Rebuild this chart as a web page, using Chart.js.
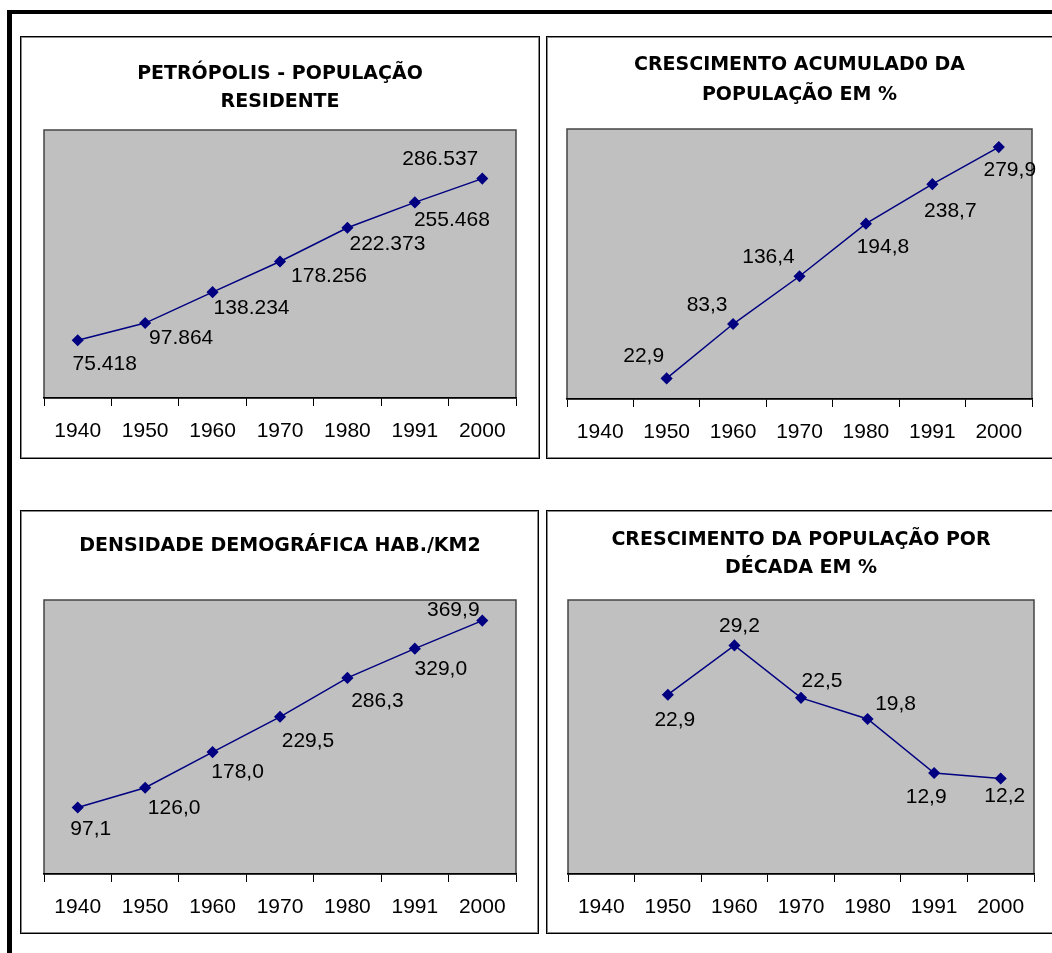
<!DOCTYPE html>
<html>
<head>
<meta charset="utf-8">
<script src="https://cdn.jsdelivr.net/npm/chart.js@4/dist/chart.umd.min.js"></script>
<style>
  html, body { margin: 0; padding: 0; background: #fff; }
  body { width: 1052px; height: 953px; position: relative; overflow: hidden; }
  .frame { position: absolute; left: 7px; top: 10px; right: -10px; bottom: -10px;
           border-left: 5px solid #000; border-top: 4px solid #000; }
  .panel { position: absolute; box-sizing: border-box; border: 1px solid #000;
           box-shadow: inset 1px 1px 0 #888, inset -1px -1px 0 #888; background: #fff; }
  .panel canvas { position: absolute; left: 0; top: 0; }
</style>
</head>
<body>
<div class="frame"></div>
<div class="panel" style="left:20px; top:36px; width:520px; height:423px;"><canvas id="c1" width="518" height="421"></canvas></div>
<div class="panel" style="left:546px; top:36px; width:511px; height:423px;"><canvas id="c2" width="509" height="421"></canvas></div>
<div class="panel" style="left:20px; top:510px; width:519px; height:424px;"><canvas id="c3" width="517" height="422"></canvas></div>
<div class="panel" style="left:546px; top:510px; width:511px; height:424px;"><canvas id="c4" width="509" height="422"></canvas></div>
<script>
  // dados
  const anos = ['1940', '1950', '1960', '1970', '1980', '1991', '2000'];
  const populacao = [75418, 97864, 138234, 178256, 222373, 255468, 286537];
  const crescAcumulado = [null, 22.9, 83.3, 136.4, 194.8, 238.7, 279.9];
  const densidade = [97.1, 126.0, 178.0, 229.5, 286.3, 329.0, 369.9];
  const crescDecada = [null, 22.9, 29.2, 22.5, 19.8, 12.9, 12.2];

  // posição dos rótulos em relação ao ponto (dx, dy)
  const rot1 = [[27, 24], [36, 15], [39, 16], [49, 15], [40, 16], [37, 18], [-42, -19]];
  const rot2 = [null, [-23, -22], [-26, -19], [-31, -19], [17, 24], [18, 27], [11, 23]];
  const rot3 = [[13, 22], [29, 21], [25, 20], [28, 24], [30, 23], [26, 21], [-29, -10]];
  const rot4 = [null, [7, 25], [5, -19], [21, -17], [28, -15], [-8, 24], [4, 18]];

  const NAVY = '#000080';

  function milhar(v) {
    return String(v).replace(/\B(?=(\d{3})+(?!\d))/g, '.');
  }
  function decimal(v) {
    return v.toFixed(1).replace('.', ',');
  }

  const fundoPlot = {
    id: 'fundoPlot',
    beforeDraw(chart) {
      const a = chart.chartArea;
      const ctx = chart.ctx;
      ctx.save();
      ctx.fillStyle = '#c0c0c0';
      ctx.fillRect(a.left, a.top, a.right - a.left, a.bottom - a.top);
      ctx.strokeStyle = '#444';
      ctx.lineWidth = 1.5;
      ctx.strokeRect(a.left, a.top, a.right - a.left, a.bottom - a.top);
      ctx.restore();
    }
  };

  function rotulos(offsets, fmt) {
    return {
      id: 'rotulos',
      afterDatasetsDraw(chart) {
        const ctx = chart.ctx;
        const ds = chart.data.datasets[0];
        const meta = chart.getDatasetMeta(0);
        ctx.save();
        ctx.font = '21px "Liberation Sans", Arial, sans-serif';
        ctx.fillStyle = '#000';
        ctx.textAlign = 'center';
        ctx.textBaseline = 'middle';
        meta.data.forEach((pt, i) => {
          const v = ds.data[i];
          if (v === null || !offsets[i]) return;
          ctx.fillText(fmt(v), pt.x + offsets[i][0], pt.y + offsets[i][1]);
        });
        ctx.restore();
      }
    };
  }

  function grafico(id, cfg) {
    return new Chart(document.getElementById(id), {
      type: 'line',
      data: {
        labels: anos,
        datasets: [{
          data: cfg.data,
          borderColor: NAVY,
          borderWidth: 1.5,
          backgroundColor: NAVY,
          pointStyle: 'rectRot',
          pointRadius: 5,
          pointBackgroundColor: NAVY,
          pointBorderColor: NAVY,
          tension: 0,
          spanGaps: false
        }]
      },
      options: {
        responsive: false,
        animation: false,
        devicePixelRatio: 1,
        layout: { padding: { left: cfg.padL, right: cfg.padR, top: 0, bottom: 0 } },
        plugins: {
          legend: { display: false },
          tooltip: { enabled: false },
          title: {
            display: true,
            text: cfg.title,
            color: '#000',
            font: { family: '"DejaVu Sans", sans-serif', size: 19, weight: 'bold', lineHeight: cfg.lh },
            padding: { top: cfg.tTop, bottom: cfg.tBot }
          }
        },
        scales: {
          x: {
            offset: true,
            grid: { offset: true, drawOnChartArea: false, drawTicks: true, tickLength: 8, color: '#000', lineWidth: 1 },
            border: { display: true, color: '#000', width: 1.5 },
            ticks: {
              color: '#000',
              font: { family: '"Liberation Sans", Arial, sans-serif', size: 21 },
              padding: 13,
              maxRotation: 0,
              autoSkip: false
            },
            afterFit(scale) { scale.height = cfg.axisH; }
          },
          y: { display: false, min: 0, max: cfg.max }
        }
      },
      plugins: [fundoPlot, rotulos(cfg.offsets, cfg.fmt)]
    });
  }

  grafico('c1', {
    data: populacao, max: 350000, offsets: rot1, fmt: milhar,
    title: ['PETRÓPOLIS - POPULAÇÃO', 'RESIDENTE'],
    lh: '28px', tTop: 23.5, tBot: 13.5, padL: 23, padR: 23, axisH: 60
  });
  grafico('c2', {
    data: crescAcumulado, max: 300, offsets: rot2, fmt: decimal,
    title: ['CRESCIMENTO ACUMULAD0 DA', 'POPULAÇÃO EM %'],
    lh: '30px', tTop: 13, tBot: 19, padL: 20, padR: 24, axisH: 59
  });
  grafico('c3', {
    data: densidade, max: 400, offsets: rot3, fmt: decimal,
    title: 'DENSIDADE DEMOGRÁFICA HAB./KM2',
    lh: '28px', tTop: 21, tBot: 40, padL: 23, padR: 22, axisH: 59
  });
  grafico('c4', {
    data: crescDecada, max: 35, offsets: rot4, fmt: decimal,
    title: ['CRESCIMENTO DA POPULAÇÃO POR', 'DÉCADA EM %'],
    lh: '28px', tTop: 15, tBot: 18, padL: 21, padR: 22, axisH: 59
  });
</script>
</body>
</html>
